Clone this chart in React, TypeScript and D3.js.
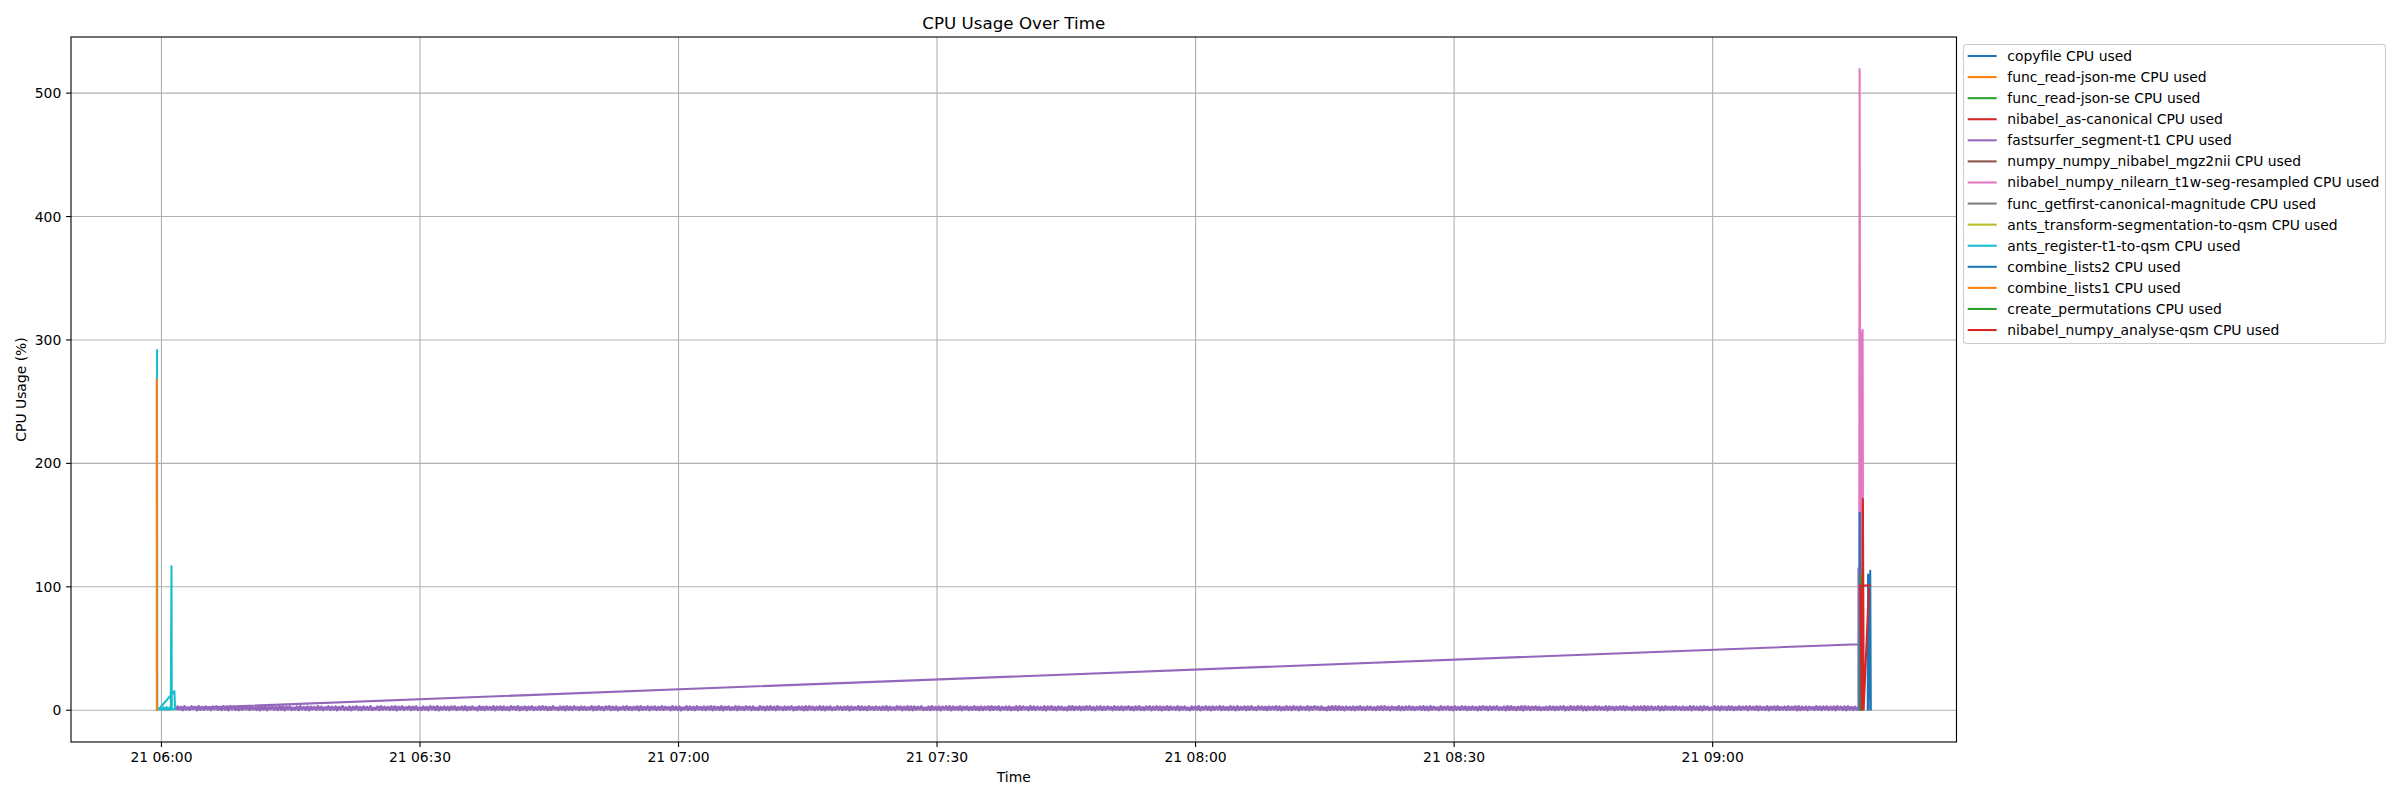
import React from 'react';
import * as d3 from 'd3';

type Pt = [string, number];

const W = 2400;
const H = 800;
const plot = { left: 71, right: 1956.5, top: 37, bottom: 742 };

const seriesNames = [
  'copyfile CPU used',
  'func_read-json-me CPU used',
  'func_read-json-se CPU used',
  'nibabel_as-canonical CPU used',
  'fastsurfer_segment-t1 CPU used',
  'numpy_numpy_nibabel_mgz2nii CPU used',
  'nibabel_numpy_nilearn_t1w-seg-resampled CPU used',
  'func_getfirst-canonical-magnitude CPU used',
  'ants_transform-segmentation-to-qsm CPU used',
  'ants_register-t1-to-qsm CPU used',
  'combine_lists2 CPU used',
  'combine_lists1 CPU used',
  'create_permutations CPU used',
  'nibabel_numpy_analyse-qsm CPU used',
];

// samples: [time of day on the 21st, CPU %]
const copyfile: Pt[] = [['09:18:00', 0.5], ['09:18:02', 110], ['09:18:05', 0.5], ['09:18:17', 113], ['09:18:21', 0.5]];
const readJsonMe: Pt[] = [['05:59:52', 0.8], ['06:00:30', 1.2]];
const readJsonSe: Pt[] = [['06:00:00', 0.9], ['06:00:40', 1.1]];
const asCanonical: Pt[] = [['06:00:10', 1.0], ['06:00:55', 0.8]];
const mgz2nii: Pt[] = [['09:17:04', 0.5], ['09:17:20', 0.5]];
const resampled: Pt[] = [['09:17:00', 0.5], ['09:17:03', 519.5], ['09:17:10', 2], ['09:17:17', 304], ['09:17:24', 308], ['09:17:29', 0.5]];
const getfirst: Pt[] = [['09:17:06', 0.5], ['09:17:14', 0.5]];
const antsTransform: Pt[] = [['09:17:12', 0.5], ['09:17:22', 0.5]];
const antsRegister: Pt[] = [
  ['05:59:29', 291.7], ['05:59:31', 0.8], ['05:59:42', 0.8], ['06:01:30', 15.4], ['06:01:35', 0.8],
  ['05:59:45', 0.8], ['05:59:55', 2.4], ['06:00:05', 0.5], ['06:00:15', 2.3], ['06:00:25', 0.6],
  ['06:00:35', 2.5], ['06:00:45', 0.5], ['06:00:55', 2.2], ['06:01:05', 0.6], ['06:01:10', 116.7],
  ['06:01:12', 0.8], ['06:01:33', 1.0],
];
const combineLists2: Pt[] = [['09:17:01', 0.5], ['09:17:04', 160], ['09:17:07', 0.5]];
const combineLists1: Pt[] = [['05:59:27', 268], ['05:59:28', 0.4]];
const createPermutations: Pt[] = [['09:17:09', 0.5], ['09:17:11', 110], ['09:17:12', 0.5]];
const analyseQsm: Pt[] = [['09:18:16', 101], ['09:17:07', 101], ['09:17:18', 0.5], ['09:17:26', 171], ['09:17:31', 0.5], ['09:18:08', 98]];

// fastsurfer: regular samples over three hours, then the unsorted tail
const fastsurferBandStart = '06:01:40';
const fastsurferBandEnd = '09:16:55';
const fastsurferBand = [
  0.4,2.8,1.0,2.5,0.3,3.0,0.8,2.2,0.5,2.9,1.2,2.6,0.2,3.0,0.7,2.4,0.6,2.8,0.9,2.1,
  0.3,2.7,1.1,2.9,0.5,2.3,0.4,2.9,0.8,2.6,0.2,3.0,1.0,2.5,0.6,2.2,0.3,2.8,0.7,3.0,
  1.0,2.4,0.4,2.7,0.9,2.0,0.5,3.0,0.2,2.6,0.8,2.9,0.3,2.3,1.1,2.8,0.6,2.5,0.4,2.9,
  0.6,2.9,0.3,2.5,1.0,2.8,0.4,1.9,0.7,2.7,0.3,3.0,0.9,2.4,0.5,2.8,0.2,2.6,1.1,2.3,
  0.5,3.0,0.8,2.6,0.3,2.2,1.0,2.9,0.4,2.5,0.7,2.8,0.2,2.4,0.9,3.0,0.5,2.1,0.6,2.7,
  0.2,2.6,0.9,3.0,0.5,2.4,0.3,2.8,1.0,2.3,0.6,2.9,0.4,1.8,0.8,2.7,0.3,3.0,0.7,2.5,
  0.9,2.3,0.4,2.8,0.6,3.0,0.2,2.5,0.8,2.9,0.5,2.2,1.1,2.7,0.3,2.6,0.9,2.9,0.4,2.0,
  0.5,2.8,0.7,2.4,0.3,2.9,1.0,2.6,0.4,3.0,0.2,2.3,0.8,2.8,0.6,2.5,0.3,2.7,1.0,2.9,
  0.4,2.2,0.9,2.7,0.5,2.9,0.3,2.4,0.7,2.8,1.0,2.0,0.2,3.0,0.6,2.6,0.4,2.8,0.8,2.3,
  0.7,3.0,0.3,2.5,0.9,2.8,0.4,2.7,0.6,2.3,0.2,2.9,1.1,2.6,0.5,3.0,0.3,2.4,0.8,2.8,
  0.3,2.5,1.0,2.9,0.4,2.2,0.7,2.8,0.5,3.0,0.9,2.6,0.3,2.4,0.6,2.9,1.0,1.9,0.4,2.7,
  0.8,2.7,0.2,3.0,0.6,2.5,0.4,2.9,1.0,2.4,0.3,2.8,0.7,2.6,0.5,2.2,0.9,3.0,0.3,2.6,
  0.5,2.9,0.8,2.3,0.3,2.7,1.1,3.0,0.4,2.5,0.6,2.8,0.2,2.1,0.9,2.7,0.5,2.9,0.7,2.4,
  0.4,2.6,0.9,2.8,0.2,3.0,0.6,2.4,0.8,2.9,0.3,2.5,1.0,2.8,0.4,2.3,0.7,3.0,0.5,2.6,
  1.0,2.3,0.3,2.9,0.7,2.6,0.5,2.8,0.2,2.0,0.9,3.0,0.4,2.7,0.6,2.5,0.3,2.9,1.0,2.4,
  0.6,2.8,0.4,2.5,0.9,3.0,0.3,2.7,0.7,2.4,0.5,2.9,0.2,2.6,1.1,2.8,0.4,2.2,0.8,3.0,
  0.3,2.7,0.8,2.4,0.5,2.9,1.0,2.6,0.3,2.8,0.6,1.9,0.4,3.0,0.9,2.5,0.2,2.7,0.6,2.9,
  0.7,2.5,0.3,3.0,0.9,2.3,0.4,2.8,0.6,2.6,1.0,2.9,0.3,2.4,0.5,2.8,0.8,2.6,0.2,3.0,
  0.4,2.9,1.0,2.6,0.3,2.4,0.7,3.0,0.5,2.7,0.2,2.5,0.9,2.8,0.4,2.1,0.6,2.9,1.0,2.5,
  0.5,2.6,0.8,2.9,0.2,2.7,0.6,2.3,1.0,3.0,0.4,2.8,0.7,2.5,0.3,2.9,0.9,2.4,0.5,2.7,
  0.9,2.4,0.4,2.8,0.6,3.0,0.3,2.6,0.8,2.2,0.5,2.9,1.1,2.7,0.2,2.5,0.7,3.0,0.4,2.8,
  0.3,2.8,0.7,2.5,1.0,2.9,0.4,2.0,0.6,2.7,0.3,3.0,0.8,2.4,0.5,2.8,0.2,2.6,0.9,2.9,
  0.6,3.0,0.2,2.7,0.8,2.4,0.5,2.9,0.3,2.6,1.0,2.8,0.4,2.3,0.7,3.0,0.6,2.5,0.3,2.7,
  0.4,2.5,0.9,2.8,0.3,3.0,0.6,2.6,0.8,2.9,0.2,2.4,1.0,2.7,0.5,2.8,0.3,2.2,0.7,2.9,
  0.2,2.9,0.6,2.7,1.0,2.4,0.3,3.0,0.7,2.8,0.4,2.6,0.9,2.3,0.5,2.9,0.2,2.7,0.8,3.0,
  0.6,2.4,0.3,2.8,0.9,2.6,0.5,2.1,0.2,2.9,0.7,3.0,0.4,2.5,1.0,2.8,0.3,2.6,0.6,2.9,
  0.8,3.0,0.5,2.3,0.2,2.7,0.9,2.9,0.4,2.5,0.6,2.8,1.1,2.4,0.3,3.0,0.7,2.6,0.5,2.8,
  0.3,2.6,1.0,2.9,0.6,2.4,0.2,2.8,0.8,3.0,0.5,2.2,0.4,2.7,0.9,2.9,0.3,2.5,0.7,3.0,
  0.5,2.8,0.2,2.5,0.7,3.0,0.4,2.7,1.0,2.3,0.6,2.9,0.3,2.6,0.8,2.8,0.5,1.9,0.2,2.7,
  0.9,2.7,0.6,3.0,0.3,2.4,0.8,2.9,0.5,2.6,0.2,2.8,0.7,2.5,1.0,3.0,0.4,2.7,0.6,2.3,
  0.4,3.0,0.7,2.6,0.2,2.9,0.5,2.4,0.9,2.8,0.3,2.7,0.6,3.0,0.8,2.2,0.4,2.9,1.0,2.6,
  0.6,2.5,0.3,2.8,0.8,2.6,1.0,3.0,0.4,2.7,0.2,2.4,0.5,2.9,0.7,2.6,0.3,3.0,0.9,2.5,
  0.2,2.8,0.9,2.4,0.5,2.9,0.3,2.6,0.7,3.0,1.1,2.5,0.4,2.8,0.6,2.0,0.2,2.7,0.5,2.9,
  0.7,2.9,0.4,3.0,0.6,2.5,0.2,2.7,0.9,2.4,0.5,2.8,0.3,2.6,0.8,3.0,0.6,2.3,0.4,2.8,
  1.0,2.6,0.5,2.3,0.3,2.8,0.7,2.9,0.4,3.0,0.6,2.5,0.2,2.7,0.9,2.4,0.5,2.9,0.3,2.6,
  0.4,2.7,0.8,2.9,0.5,2.6,0.3,2.4,1.0,2.8,0.6,3.0,0.4,2.5,0.2,2.9,0.7,2.6,0.9,2.2,
  0.3,3.0,0.6,2.5,0.9,2.8,0.4,2.6,0.2,2.9,0.7,2.3,0.5,3.0,0.8,2.7,0.3,2.5,0.6,2.8,
  0.8,2.4,0.2,2.7,0.5,3.0,0.9,2.5,0.3,2.8,0.6,2.6,1.0,2.9,0.4,2.2,0.7,2.7,0.2,3.0,
  0.5,2.9,0.7,2.4,0.3,2.6,0.6,2.9,0.2,3.0,0.8,2.7,0.4,2.5,0.9,2.8,0.5,2.6,0.3,2.1,
  0.6,2.6,0.4,2.9,0.8,2.7,0.3,2.5,0.6,2.8,1.0,3.0,0.2,2.4,0.5,2.9,0.7,2.6,0.4,3.0,
  0.9,3.0,0.3,2.6,0.2,2.8,0.7,2.4,0.5,2.9,0.4,2.7,0.8,2.3,0.6,3.0,0.2,2.8,1.0,2.5,
  0.3,2.5,0.8,2.8,0.6,3.0,0.4,2.7,0.9,2.2,0.3,2.9,0.5,2.6,0.7,2.8,0.4,3.0,0.2,2.7,
  0.7,2.8,0.5,2.4,1.0,2.9,0.2,2.6,0.4,3.0,0.8,2.5,0.6,2.7,0.3,2.9,0.9,2.4,0.5,2.8,
  0.4,2.3,0.6,3.0,0.3,2.8,0.8,2.5,0.5,2.7,0.2,2.9,0.9,2.6,0.4,2.0,0.7,3.0,0.6,2.7,
  0.2,2.7,0.9,2.5,0.4,2.9,0.6,2.8,0.3,2.4,0.7,3.0,0.5,2.6,1.0,2.8,0.3,2.9,0.8,2.5,
  0.6,3.0,0.3,2.7,0.7,2.4,0.5,2.9,0.2,2.6,0.9,2.8,0.4,3.0,0.6,2.3,0.8,2.7,0.4,2.9,
  0.5,2.6,0.8,2.9,0.2,3.0,0.4,2.5,0.7,2.8,0.3,2.6,1.0,2.4,0.5,2.9,0.6,2.7,0.3,2.8,
  0.8,2.9,0.4,2.6,0.6,2.8,0.3,3.0,0.9,2.5,0.5,2.7,0.2,2.9,0.7,2.4,0.4,2.6,0.7,1.0,
];
const fastsurferTail: Pt[] = [['09:16:55', 115], ['09:16:56', 53.5], ['06:01:40', 1.3]];

const yTicks = [0, 100, 200, 300, 400, 500];

const at = (s: string) => {
  const [h, m, sec] = s.split(':').map(Number);
  return new Date(2024, 4, 21, h, m, sec);
};

interface Sample { t: Date; v: number }

const toSamples = (pts: Pt[]): Sample[] => pts.map(([t, v]) => ({ t: at(t), v }));

// sample clock of the regular fastsurfer readings
const bandClock = d3.scaleTime()
  .domain([at(fastsurferBandStart), at(fastsurferBandEnd)])
  .range([0, fastsurferBand.length - 1]);
const fastsurferSamples: Sample[] = fastsurferBand.map((v, i) => ({ t: bandClock.invert(i), v }));
const fastsurferTailSamples: Sample[] = [fastsurferSamples[fastsurferSamples.length - 1]].concat(
  toSamples(fastsurferTail),
);

const seriesData: Sample[][] = [
  toSamples(copyfile),
  toSamples(readJsonMe),
  toSamples(readJsonSe),
  toSamples(asCanonical),
  fastsurferSamples.concat(toSamples(fastsurferTail)),
  toSamples(mgz2nii),
  toSamples(resampled),
  toSamples(getfirst),
  toSamples(antsTransform),
  toSamples(antsRegister),
  toSamples(combineLists2),
  toSamples(combineLists1),
  toSamples(createPermutations),
  toSamples(analyseQsm),
];

const colors = d3.schemeCategory10;

const App: React.FC = () => {
  const all = seriesData.flat();
  const [t0, t1] = d3.extent(all, (d) => +d.t) as [number, number];
  const [v0, v1] = d3.extent(all, (d) => d.v) as [number, number];
  const tPad = (t1 - t0) * 0.05;
  const vPad = (v1 - v0) * 0.05;

  const x = d3.scaleTime().domain([new Date(t0 - tPad), new Date(t1 + tPad)]).range([plot.left, plot.right]);
  const y = d3.scaleLinear().domain([v0 - vPad, v1 + vPad]).range([plot.bottom, plot.top]);

  const line = d3.line<Sample>().x((d) => x(d.t)).y((d) => y(d.v));
  const xTicks = x.ticks(d3.timeMinute.every(30) as d3.TimeInterval);
  const fmt = d3.timeFormat('%d %H:%M');

  const fs = 13.9;
  const grid = '#b0b0b0';
  const legendX = 1963.5;
  const legendY = 44.5;
  const rowH = 21.08;

  return (
    <svg
      width={W}
      height={H}
      style={{ position: 'absolute', left: 0, top: 0, background: '#fff' }}
      fontFamily="DejaVu Sans, sans-serif"
    >
      <rect width={W} height={H} fill="#fff" />
      <defs>
        <clipPath id="plotArea">
          <rect x={plot.left} y={plot.top} width={plot.right - plot.left} height={plot.bottom - plot.top} />
        </clipPath>
      </defs>

      {/* grid */}
      {xTicks.map((t, i) => (
        <line key={`gx${i}`} x1={x(t)} x2={x(t)} y1={plot.top} y2={plot.bottom} stroke={grid} strokeWidth={1.1} />
      ))}
      {yTicks.map((v) => (
        <line key={`gy${v}`} x1={plot.left} x2={plot.right} y1={y(v)} y2={y(v)} stroke={grid} strokeWidth={1.1} />
      ))}

      {/* series */}
      <g clipPath="url(#plotArea)">
        {seriesData.map((s, i) =>
          i === 4 ? (
            <g key={seriesNames[i]}>
              {/* dense readings: slightly heavier so the band reads solid like the original */}
              <path d={line(fastsurferSamples) ?? ''} fill="none" stroke={colors[4]} strokeWidth={3} strokeLinejoin="round" />
              <path
                d={line(fastsurferTailSamples) ?? ''}
                fill="none"
                stroke={colors[4]}
                strokeWidth={2.08}
                strokeLinejoin="round"
                strokeLinecap="square"
              />
            </g>
          ) : (
            <path
              key={seriesNames[i]}
              d={line(s) ?? ''}
              fill="none"
              stroke={colors[i % 10]}
              strokeWidth={2.08}
              strokeLinejoin="round"
              strokeLinecap="square"
            />
          ),
        )}
      </g>

      {/* spines */}
      <rect
        x={plot.left}
        y={plot.top}
        width={plot.right - plot.left}
        height={plot.bottom - plot.top}
        fill="none"
        stroke="#000"
        strokeWidth={1.1}
      />

      {/* x axis */}
      {xTicks.map((t, i) => (
        <g key={`tx${i}`}>
          <line x1={x(t)} x2={x(t)} y1={plot.bottom} y2={plot.bottom + 4.9} stroke="#000" strokeWidth={1.1} />
          <text x={x(t)} y={plot.bottom + 20} textAnchor="middle" fontSize={fs} fill="#000">
            {fmt(t)}
          </text>
        </g>
      ))}

      {/* y axis */}
      {yTicks.map((v) => (
        <g key={`ty${v}`}>
          <line x1={plot.left - 4.9} x2={plot.left} y1={y(v)} y2={y(v)} stroke="#000" strokeWidth={1.1} />
          <text x={plot.left - 9.7} y={y(v) + 5} textAnchor="end" fontSize={fs} fill="#000">
            {v}
          </text>
        </g>
      ))}

      <text x={(plot.left + plot.right) / 2} y={28.7} textAnchor="middle" fontSize={16.7} fill="#000">
        CPU Usage Over Time
      </text>
      <text x={(plot.left + plot.right) / 2} y={782} textAnchor="middle" fontSize={fs} fill="#000">
        Time
      </text>
      <text
        transform={`translate(26,${(plot.top + plot.bottom) / 2}) rotate(-90)`}
        textAnchor="middle"
        fontSize={fs}
        fill="#000"
      >
        CPU Usage (%)
      </text>

      {/* legend */}
      <rect
        x={legendX}
        y={legendY}
        width={422}
        height={299}
        rx={3}
        fill="#fff"
        fillOpacity={0.8}
        stroke="#cccccc"
        strokeWidth={1.1}
      />
      {seriesNames.map((name, i) => {
        const cy = 56 + i * rowH;
        return (
          <g key={`lg${i}`}>
            <line x1={1967.7} x2={1996.7} y1={cy} y2={cy} stroke={colors[i % 10]} strokeWidth={2.08} />
            <text x={2007.3} y={cy + 5} fontSize={fs} fill="#000">
              {name}
            </text>
          </g>
        );
      })}
    </svg>
  );
};

export default App;
